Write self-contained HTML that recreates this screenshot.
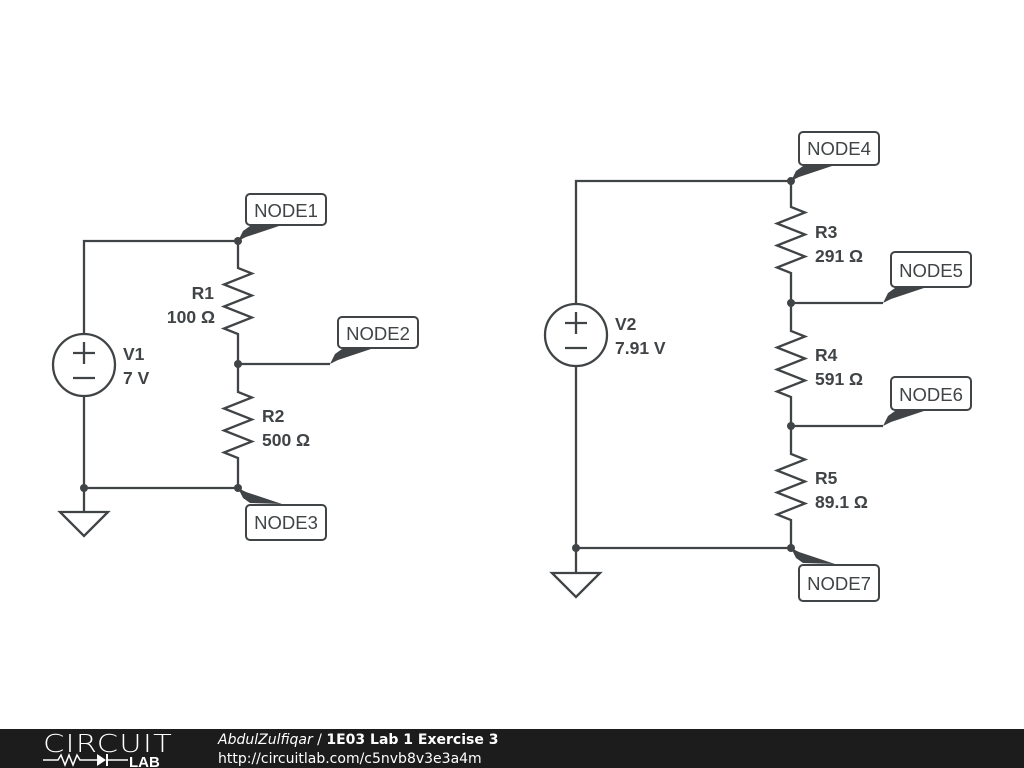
<!DOCTYPE html>
<html><head><meta charset="utf-8"><style>
html,body{margin:0;padding:0;background:#fff;}
svg{display:block;}
</style></head><body>
<svg width="1024" height="768" viewBox="0 0 1024 768" xmlns="http://www.w3.org/2000/svg" font-family="Liberation Sans, Arial, sans-serif">
<rect width="1024" height="768" fill="#fff"/>
<g stroke="#404446" stroke-width="2.3" fill="none">
<polyline points="238,241 84,241 84,334"/>
<polyline points="84,396 84,512"/>
<line x1="84" y1="488" x2="238" y2="488"/>
<polygon points="60,512 108,512 84,536"/>
<circle cx="84" cy="365" r="31"/>
<line x1="73" y1="353" x2="95" y2="353"/><line x1="84" y1="342" x2="84" y2="364"/>
<line x1="73" y1="378" x2="95" y2="378"/>
<polyline points="238,241 238,268 252,273.5 224,284.5 252,295.5 224,306.5 252,317.5 224,328.5 238,334 238,392 252,397.5 224,408.5 252,419.5 224,430.5 252,441.5 224,452.5 238,458 238,488"/>
<line x1="238" y1="364" x2="330" y2="364"/>
<polyline points="791,181 576,181 576,304"/>
<polyline points="576,366 576,573"/>
<line x1="576" y1="548" x2="791" y2="548"/>
<polygon points="552,573 600,573 576,597"/>
<circle cx="576" cy="335" r="31"/>
<line x1="565" y1="323" x2="587" y2="323"/><line x1="576" y1="312" x2="576" y2="334"/>
<line x1="565" y1="348" x2="587" y2="348"/>
<polyline points="791,181 791,207 805,212.5 777,223.5 805,234.5 777,245.5 805,256.5 777,267.5 791,273 791,331 805,336.5 777,347.5 805,358.5 777,369.5 805,380.5 777,391.5 791,397 791,454 805,459.5 777,470.5 805,481.5 777,492.5 805,503.5 777,514.5 791,520 791,548"/>
<line x1="791" y1="303" x2="883" y2="303"/>
<line x1="791" y1="426" x2="883" y2="426"/>
</g>
<g fill="#fff" stroke="#404446" stroke-width="2">
<rect x="246" y="194" width="80" height="31" rx="4"/>
<rect x="338" y="317" width="80" height="31" rx="4"/>
<rect x="246" y="505" width="80" height="35" rx="4"/>
<rect x="799" y="132" width="80" height="33" rx="4"/>
<rect x="891" y="252" width="80" height="35" rx="4"/>
<rect x="891" y="377" width="80" height="33" rx="4"/>
<rect x="799" y="565" width="80" height="36" rx="4"/>
</g>
<g fill="#404446">
<circle cx="238" cy="241" r="4"/><circle cx="238" cy="364" r="4"/><circle cx="238" cy="488" r="4"/><circle cx="84" cy="488" r="4"/>
<circle cx="791" cy="181" r="4"/><circle cx="791" cy="303" r="4"/><circle cx="791" cy="426" r="4"/><circle cx="791" cy="548" r="4"/><circle cx="576" cy="548" r="4"/>
<polygon points="238,241 243,231 250,226 282,225 246,237"/>
<polygon points="330,364 335,354 342,349 374,348 338,360"/>
<polygon points="238,488 243,498 250,503 282,504 246,492"/>
<polygon points="791,181 796,171 803,166 835,165 799,177"/>
<polygon points="883,303 888,293 895,288 927,287 891,299"/>
<polygon points="883,426 888,416 895,411 927,410 891,422"/>
<polygon points="791,548 796,558 803,563 835,564 799,552"/>
</g>
<g fill="#404446" font-size="18.5">
<text x="286" y="217" text-anchor="middle">NODE1</text>
<text x="378" y="340" text-anchor="middle">NODE2</text>
<text x="286" y="529" text-anchor="middle">NODE3</text>
<text x="839" y="155" text-anchor="middle">NODE4</text>
<text x="931" y="277" text-anchor="middle">NODE5</text>
<text x="931" y="401" text-anchor="middle">NODE6</text>
<text x="839" y="590" text-anchor="middle">NODE7</text>
</g>
<g fill="#404446" font-size="17.5" font-weight="bold">
<text x="214" y="299" text-anchor="end">R1</text>
<text x="215" y="323" text-anchor="end">100 Ω</text>
<text x="262" y="422">R2</text>
<text x="262" y="446">500 Ω</text>
<text x="123" y="360">V1</text>
<text x="123" y="384">7 V</text>
<text x="615" y="330">V2</text>
<text x="615" y="354">7.91 V</text>
<text x="815" y="238">R3</text>
<text x="815" y="262">291 Ω</text>
<text x="815" y="361">R4</text>
<text x="815" y="385">591 Ω</text>
<text x="815" y="484">R5</text>
<text x="815" y="508">89.1 Ω</text>
</g>
<rect x="0" y="729" width="1024" height="39" fill="#1c1c1c"/>
<text x="43" y="752" fill="#fff" font-size="25" font-weight="300" letter-spacing="1" style="font-family:'DejaVu Sans',sans-serif" textLength="130" lengthAdjust="spacingAndGlyphs">CIRCUIT</text>
<polyline points="43,760 58,760 61,755 65,765 69,755 73,765 77,755 80,760 97,760" fill="none" stroke="#fff" stroke-width="1.5"/>
<polygon points="97,754 97,766 106,760" fill="#fff"/><line x1="107" y1="754" x2="107" y2="766" stroke="#fff" stroke-width="2"/>
<line x1="107" y1="760" x2="128" y2="760" stroke="#fff" stroke-width="1.5"/>
<text x="129" y="767" fill="#fff" font-size="15" font-weight="bold">LAB</text>
<text x="218" y="744" fill="#fff" font-size="14" style="font-family:'DejaVu Sans',sans-serif"><tspan font-style="italic">AbdulZulfiqar</tspan> / <tspan font-weight="bold">1E03 Lab 1 Exercise 3</tspan></text>
<text x="218" y="763" fill="#fff" font-size="14" style="font-family:'DejaVu Sans',sans-serif">http://circuitlab.com/c5nvb8v3e3a4m</text>
</svg>
</body></html>
